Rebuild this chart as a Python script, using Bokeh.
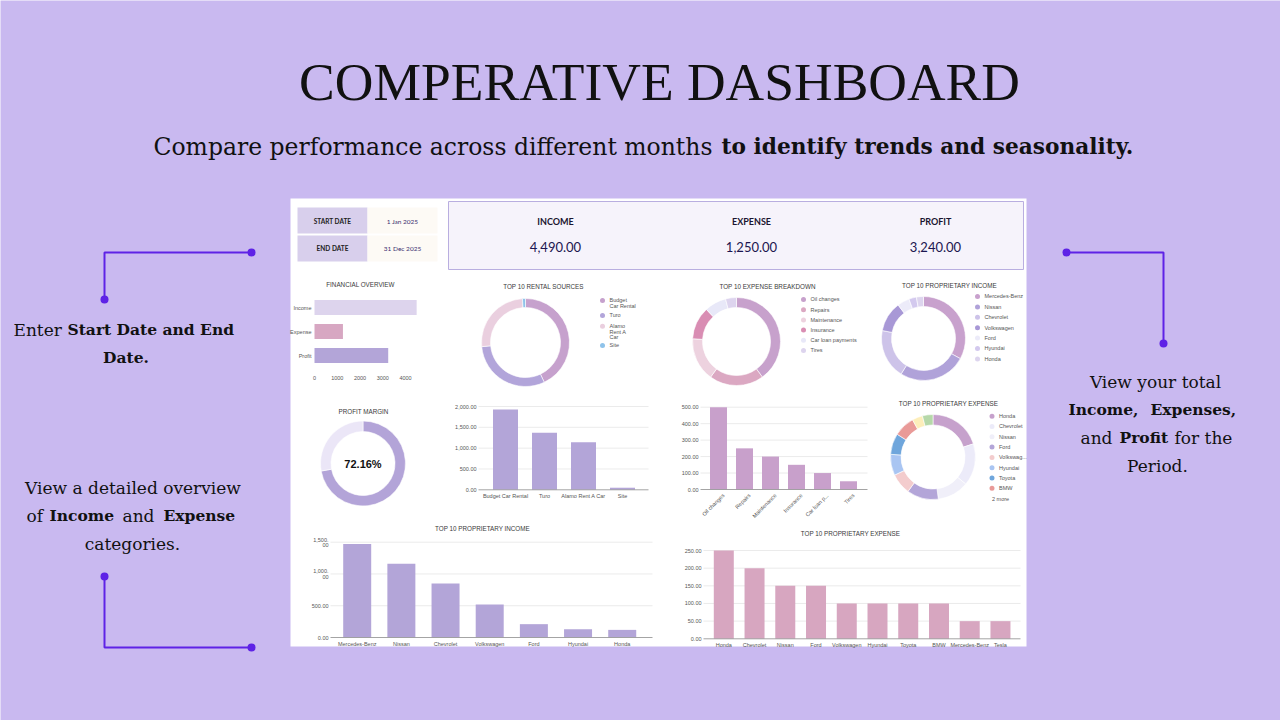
import numpy as np
from bokeh.plotting import figure
from bokeh.models import Range1d
from bokeh.core.properties import value
from bokeh.embed import file_html
from bokeh.resources import INLINE

# ---------------- data ----------------
START_DATE = "1 Jan 2025"
END_DATE = "31 Dec 2025"

fin_cats = ["Income", "Expense", "Profit"]
fin_vals = [4490, 1250, 3240]
fin_ticks = [0, 1000, 2000, 3000, 4000]

rental_cats = ["Budget Car Rental", "Turo", "Alamo Rent A Car", "Site"]
rental_legend = ["Budget\nCar Rental", "Turo", "Alamo\nRent A\nCar", "Site"]
rental_vals = [1930, 1370, 1140, 50]
rental_ticks = [0, 500, 1000, 1500, 2000]

expense_cats = ["Oil changes", "Repairs", "Maintenance", "Insurance", "Car loan payments", "Tires"]
expense_axis = ["Oil changes", "Repairs", "Maintenance", "Insurance", "Car loan p...", "Tires"]
expense_vals = [500, 250, 200, 150, 100, 50]
expense_ticks = [0, 100, 200, 300, 400, 500]

inc_brands = ["Mercedes-Benz", "Nissan", "Chevrolet", "Volkswagen", "Ford", "Hyundai", "Honda"]
inc_brand_vals = [1470, 1160, 850, 520, 210, 130, 120]
inc_brand_ticks = [0, 500, 1000, 1500]
inc_brand_tick_text = ["0.00", "500.00", "1,000.\n00", "1,500.\n00"]

exp_brands = ["Honda", "Chevrolet", "Nissan", "Ford", "Volkswagen", "Hyundai",
              "Toyota", "BMW", "Mercedes-Benz", "Tesla"]
exp_brand_legend = ["Honda", "Chevrolet", "Nissan", "Ford", "Volkswag...", "Hyundai",
                    "Toyota", "BMW"]
exp_brand_vals = [250, 200, 150, 150, 100, 100, 100, 100, 50, 50]
exp_brand_ticks = [0, 50, 100, 150, 200, 250]

# ---------------- styles ----------------
BG = "#c9b9f0"
ACCENT = "#5e22e6"
GRID = "#e6e6e6"
AXIS = "#9a9a9a"
SMALL = "#555555"
TITLE_GREY = "#3a3a3a"

fin_colors = ["#ddd4ed", "#d7a7c2", "#b3a5d8"]
rental_colors = ["#c6a1cd", "#b2a5da", "#eacfdf", "#8fc3ea"]
expense_colors = ["#c7a1cc", "#dba8c2", "#edd2df", "#d98db3", "#e8e8f8", "#ddd4ee"]
inc_brand_colors = ["#c8a1cd", "#b0a2d9", "#cdc3e9", "#a898d6", "#ecebf9", "#d3c9ee", "#ddd5ee"]
exp_brand_colors = ["#c6a1cc", "#ecebf9", "#f0eff9", "#b3a5d8", "#f3cccd", "#a9c5f2",
                    "#6fa6dc", "#e99a98", "#fdeeba", "#b6d8a9"]
margin_colors = ["#b3a4d8", "#ebe6f7"]
BAR_PURPLE = "#b3a5d8"
BAR_ORCHID = "#c8a0cb"
BAR_PINK = "#d7a6c0"

W, H = 1280, 720
SANS = "Liberation Sans"
SERIF = "DejaVu Serif"

p = figure(width=W, height=H, x_range=Range1d(0, W), y_range=Range1d(H, 0),
           x_axis_type=None, y_axis_type=None, output_backend="svg",
           toolbar_location=None, min_border=0)
p.outline_line_color = None
p.background_fill_color = BG
p.border_fill_color = BG


def add_ranges(name, xd, xp, yd, yp):
    """Extra ranges so that data xd/yd land on the page pixels xp/yp."""
    kx = (xd[1] - xd[0]) / (xp[1] - xp[0])
    ky = (yd[1] - yd[0]) / (yp[1] - yp[0])
    p.extra_x_ranges[name] = Range1d(xd[0] - xp[0] * kx, xd[0] + (W - xp[0]) * kx)
    p.extra_y_ranges[name] = Range1d(yd[0] + (H - yp[0]) * ky, yd[0] - yp[0] * ky)
    return dict(x_range_name=name, y_range_name=name)


def label(x, y, txt, size, color="#222222", font=SANS, style="normal",
          align="center", baseline="middle", **kw):
    p.text(x=[x], y=[y], text=[txt], text_font=value(font), text_font_size=f"{size}px",
           text_color=color, text_font_style=style, text_align=align,
           text_baseline=baseline, **kw)


def donut(name, cx, cy, r_out, r_in, vals, colors):
    rk = add_ranges(name, (-1, 1), (cx - r_out, cx + r_out), (-1, 1), (cy + r_out, cy - r_out))
    v = np.asarray(vals, dtype=float)
    frac = np.concatenate([[0.0], np.cumsum(v) / v.sum()])
    start = np.pi / 2 - 2 * np.pi * frac[:-1]
    end = np.pi / 2 - 2 * np.pi * frac[1:]
    p.annular_wedge(x=0, y=0, inner_radius=r_in / r_out, outer_radius=1.0,
                    start_angle=list(start), end_angle=list(end), direction="clock",
                    fill_color=colors, line_color="white", line_width=0.6, **rk)


def legend(x, ys, names, colors, size=5.5):
    p.scatter(x=[x] * len(colors), y=ys, size=5, fill_color=colors, line_color=None)
    p.text(x=[x + 7] * len(names), y=[yy - 3.2 for yy in ys], text=names,
           text_font=value(SANS), text_font_size=f"{size}px", text_color=SMALL,
           text_align="left", text_baseline="top", text_line_height=0.95)


def column_chart(name, cats, vals, ticks, tick_text, color, geo, rotate=False):
    x0, pitch, base, ytop, left, right, bw = geo
    rk = add_ranges(name, (0, 1), (x0, x0 + pitch), (0, ticks[-1]), (base, ytop))
    xl = (left - x0) / pitch
    xr = (right - x0) / pitch
    p.segment(x0=xl, x1=xr, y0=ticks[1:], y1=ticks[1:], line_color=GRID, line_width=0.8, **rk)
    p.vbar(x=list(range(len(cats))), top=vals, bottom=0, width=bw / pitch,
           fill_color=color, line_color=None, **rk)
    p.segment(x0=xl, x1=xr, y0=0, y1=0, line_color=AXIS, line_width=0.9, **rk)
    p.text(x=xl, y=ticks, text=tick_text, x_offset=-2, text_align="right",
           text_baseline="middle", text_font=value(SANS), text_font_size="5.5px",
           text_color=SMALL, text_line_height=0.9, **rk)
    if rotate:
        p.text(x=list(range(len(cats))), y=0, text=cats, angle=np.pi / 4,
               x_offset=5, y_offset=5, text_align="right", text_baseline="middle",
               text_font=value(SANS), text_font_size="5.5px", text_color=SMALL, **rk)
    else:
        p.text(x=list(range(len(cats))), y=0, text=cats, y_offset=3,
               text_align="center", text_baseline="top",
               text_font=value(SANS), text_font_size="5.5px", text_color=SMALL, **rk)


def money(v):
    return f"{v:,.2f}"


# ---------------- headline ----------------
label(659, 81, "COMPERATIVE DASHBOARD", 53.5, color="#111111", font="Liberation Serif")
label(712, 146, "Compare performance across different months", 23.5, color="#111111",
      font=SERIF, align="right")
label(721, 146, "to identify trends and seasonality.", 21.7, color="#111111",
      font=SERIF, style="bold", align="left")

# ---------------- side notes and connectors ----------------
NOTE = 17
NOTE_B = 15.5
label(13, 329, "Enter", NOTE, font=SERIF, align="left", color="#111111")
label(67, 329, "Start Date and End", NOTE_B, font=SERIF, style="bold", align="left", color="#111111")
label(125.5, 357, "Date.", NOTE_B, font=SERIF, style="bold", color="#111111")

label(132.5, 487, "View a detailed overview", NOTE, font=SERIF, color="#111111")
label(26, 515, "of", NOTE, font=SERIF, align="left", color="#111111")
label(49, 515, "Income", NOTE_B, font=SERIF, style="bold", align="left", color="#111111")
label(122, 515, "and", NOTE, font=SERIF, align="left", color="#111111")
label(163, 515, "Expense", NOTE_B, font=SERIF, style="bold", align="left", color="#111111")
label(132, 543, "categories.", NOTE, font=SERIF, color="#111111")

label(1155, 381, "View your total", NOTE, font=SERIF, color="#111111")
label(1068, 409, "Income,", NOTE_B, font=SERIF, style="bold", align="left", color="#111111")
label(1150, 409, "Expenses,", NOTE_B, font=SERIF, style="bold", align="left", color="#111111")
label(1080, 437, "and", NOTE, font=SERIF, align="left", color="#111111")
label(1119, 437, "Profit", NOTE_B, font=SERIF, style="bold", align="left", color="#111111")
label(1174, 437, "for the", NOTE, font=SERIF, align="left", color="#111111")
label(1157, 465, "Period.", NOTE, font=SERIF, color="#111111")

for xs, ys, ends in [([251, 104, 104], [252, 252, 299], [(251, 252), (104, 299)]),
                     ([104, 104, 251], [576, 647, 647], [(104, 576), (251, 647)]),
                     ([1066, 1163, 1163], [252, 252, 343], [(1066, 252), (1163, 343)])]:
    p.line(xs, ys, line_color=ACCENT, line_width=2)
    p.scatter([e[0] for e in ends], [e[1] for e in ends], size=8,
              fill_color=ACCENT, line_color=None)

# ---------------- dashboard sheet ----------------
p.quad(left=290, right=1026, top=198, bottom=646, fill_color="white", line_color=None)

# date box
p.quad(left=[297, 297], right=[367, 367], top=[207, 235], bottom=[233, 261],
       fill_color="#d8cfec", line_color=None)
p.quad(left=[367, 367], right=[437, 437], top=[207, 235], bottom=[233, 261],
       fill_color="#fdfaf5", line_color=None)
label(332, 220.5, "START DATE", 6.5, color="#222222", font="Lato", style="bold")
label(332, 247.5, "END DATE", 6.5, color="#222222", font="Lato", style="bold")
label(402, 220.5, START_DATE, 6.5, color="#3c2f70", font="Lato")
label(402, 247.5, END_DATE, 6.5, color="#3c2f70", font="Lato")

# KPI box
p.quad(left=448, right=1023, top=201, bottom=269, fill_color="#f6f3fb",
       line_color="#b9aee0", line_width=1)
for cx, head, val in [(555, "INCOME", fin_vals[0]), (751, "EXPENSE", fin_vals[1]),
                      (935, "PROFIT", fin_vals[2])]:
    label(cx, 220.5, head, 9, color="#1b1530", font="Lato", style="bold")
    label(cx, 246.5, money(val), 13, color="#1c1650", font="Lato")

# financial overview
label(360, 284, "FINANCIAL OVERVIEW", 6.3, color=TITLE_GREY)
rk = add_ranges("fin", (0, 4000), (314, 405), (0, 2), (307, 355))
p.hbar(y=list(range(len(fin_cats))), right=fin_vals, left=0, height=15 / 24,
       fill_color=fin_colors, line_color=None, **rk)
p.text(x=0, y=list(range(len(fin_cats))), text=fin_cats, x_offset=-3, text_align="right",
       text_baseline="middle", text_font=value(SANS), text_font_size="5.5px",
       text_color=SMALL, **rk)
p.text(x=fin_ticks, y=len(fin_cats) - 1, text=[str(t) for t in fin_ticks], y_offset=22,
       text_align="center", text_baseline="middle", text_font=value(SANS),
       text_font_size="5.5px", text_color=SMALL, **rk)

# rental sources donut
label(543, 286, "TOP 10 RENTAL SOURCES", 6.3, color=TITLE_GREY)
donut("d_rental", 525, 342, 44, 35, rental_vals, rental_colors)
legend(602, [300, 315, 325.7, 345], rental_legend, rental_colors)

# expense breakdown donut
label(767, 286, "TOP 10 EXPENSE BREAKDOWN", 6.3, color=TITLE_GREY)
donut("d_expense", 736, 341, 44, 34, expense_vals, expense_colors)
legend(803, [299 + 10.2 * i for i in range(len(expense_cats))], expense_cats, expense_colors)

# proprietary income donut
label(949, 284.5, "TOP 10 PROPRIETARY INCOME", 6.3, color=TITLE_GREY)
donut("d_income", 923, 338, 42, 32, inc_brand_vals, inc_brand_colors)
legend(977, [296 + 10.4 * i for i in range(len(inc_brands))], inc_brands, inc_brand_colors)

# profit margin
label(363, 411, "PROFIT MARGIN", 6.3, color=TITLE_GREY)
margin = fin_vals[2] / fin_vals[0]
donut("d_margin", 362.5, 463, 42.5, 32, [fin_vals[2], fin_vals[0] - fin_vals[2]], margin_colors)
label(362.5, 463, f"{margin * 100:.2f}%", 11, color="#111111", style="bold")

# rental sources columns
column_chart("c_rental", rental_cats, rental_vals, rental_ticks,
             [money(t) for t in rental_ticks], BAR_PURPLE,
             (505, 39, 489.3, 406, 478, 648, 25))

# expense columns
column_chart("c_expense", expense_axis, expense_vals, expense_ticks,
             [money(t) for t in expense_ticks], BAR_ORCHID,
             (718, 26, 489, 406.7, 700, 867, 17), rotate=True)

# proprietary expense donut
label(948, 402.5, "TOP 10 PROPRIETARY EXPENSE", 6.3, color=TITLE_GREY)
donut("d_exp_brand", 932.5, 456.5, 42.5, 32, exp_brand_vals, exp_brand_colors)
legend(991.5, [415.7 + 10.3 * i for i in range(len(exp_brand_legend))], exp_brand_legend,
       exp_brand_colors[:len(exp_brand_legend)])
label(991.5, 498.3, "2 more", 5.5, color=SMALL, align="left")

# bottom: proprietary income columns
label(482, 527.5, "TOP 10 PROPRIETARY INCOME", 6.3, color=TITLE_GREY)
column_chart("c_income", inc_brands, inc_brand_vals, inc_brand_ticks, inc_brand_tick_text,
             BAR_PURPLE, (356.7, 44.17, 637, 541.7, 330, 652, 28))

# bottom: proprietary expense columns
label(850, 533.3, "TOP 10 PROPRIETARY EXPENSE", 6.3, color=TITLE_GREY)
column_chart("c_exp_brand", exp_brands, exp_brand_vals, exp_brand_ticks,
             [money(t) for t in exp_brand_ticks], BAR_PINK,
             (723.3, 30.74, 638.3, 550, 703, 1020, 20))

open("out.html", "w").write(file_html(p, INLINE))
